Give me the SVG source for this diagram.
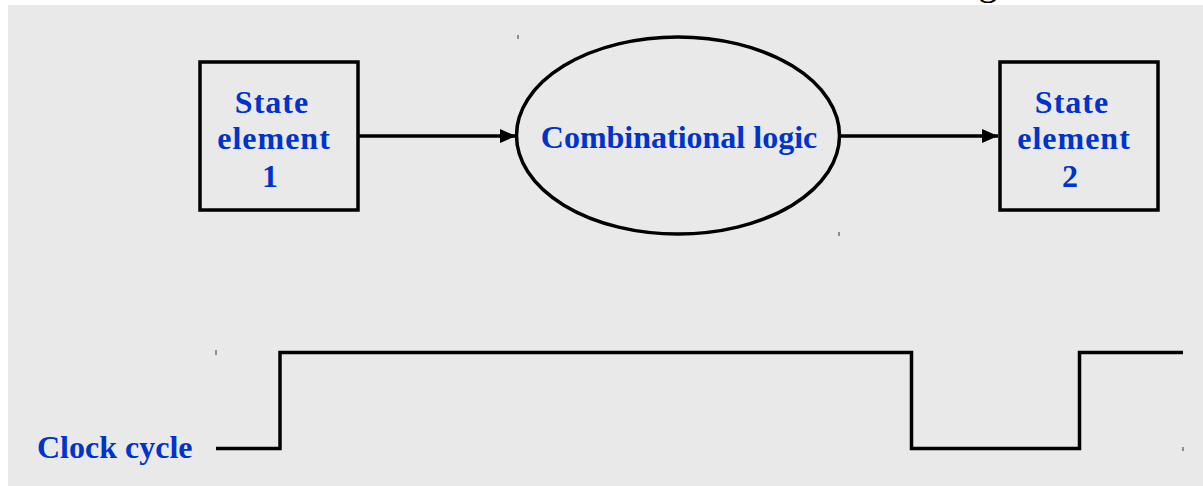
<svg xmlns="http://www.w3.org/2000/svg" width="1203" height="486" viewBox="0 0 1203 486">
  <defs>
    <marker id="arrow" markerWidth="16" markerHeight="14" refX="16" refY="7" orient="auto" markerUnits="userSpaceOnUse">
      <path d="M0,0 L16,7 L0,14 Z" fill="#000"/>
    </marker>
    <style>
      .shape { fill: none; stroke: #000; stroke-width: 3.5; }
      .wire { fill: none; stroke: #000; stroke-width: 3.5; }
      .label { font-family: "Liberation Serif", "Times New Roman", serif; font-weight: bold; font-size: 32px; fill: #0033cc; }
      .spaced { letter-spacing: 1px; }
      .tick { stroke: #333; stroke-width: 1; }
    </style>
  </defs>

  <!-- page -->
  <rect x="0" y="0" width="1203" height="486" fill="#ffffff"/>
  <rect x="8" y="5" width="1195" height="481" fill="#e9e9e9"/>
  <text x="988" y="-6" text-anchor="middle" font-family="Liberation Serif, serif" font-size="40" fill="#000">g</text>

  <!-- corner marks -->
  <g id="marks">
    <line class="tick" x1="518" y1="35" x2="518" y2="39"/>
    <line class="tick" x1="839" y1="232" x2="839" y2="236"/>
    <line class="tick" x1="216" y1="350" x2="216" y2="355"/>
    <line class="tick" x1="1183" y1="447" x2="1183" y2="451"/>
  </g>

  <g id="state-element-1">
    <rect class="shape" x="200" y="62" width="158" height="148"/>
    <text class="label spaced" text-anchor="middle" x="272" y="113">State</text>
    <text class="label spaced" text-anchor="middle" x="274" y="149">element</text>
    <text class="label" text-anchor="middle" x="270" y="187">1</text>
  </g>

  <g id="combinational-logic">
    <ellipse class="shape" cx="678" cy="135.5" rx="161.5" ry="98.5"/>
    <text class="label" text-anchor="middle" x="679" y="148">Combinational logic</text>
  </g>

  <g id="state-element-2">
    <rect class="shape" x="1000" y="62" width="158" height="148"/>
    <text class="label spaced" text-anchor="middle" x="1072" y="113">State</text>
    <text class="label spaced" text-anchor="middle" x="1074" y="149">element</text>
    <text class="label" text-anchor="middle" x="1070" y="187">2</text>
  </g>

  <g id="connectors">
    <line class="wire" x1="358" y1="136" x2="516" y2="136" marker-end="url(#arrow)"/>
    <line class="wire" x1="840" y1="136" x2="998" y2="136" marker-end="url(#arrow)"/>
  </g>

  <g id="clock">
    <text class="label" x="37" y="458">Clock cycle</text>
    <polyline class="wire" stroke-linejoin="miter" points="216,448.5 280,448.5 280,352.5 911.5,352.5 911.5,448.5 1079.5,448.5 1079.5,352.5 1183,352.5"/>
  </g>
</svg>
